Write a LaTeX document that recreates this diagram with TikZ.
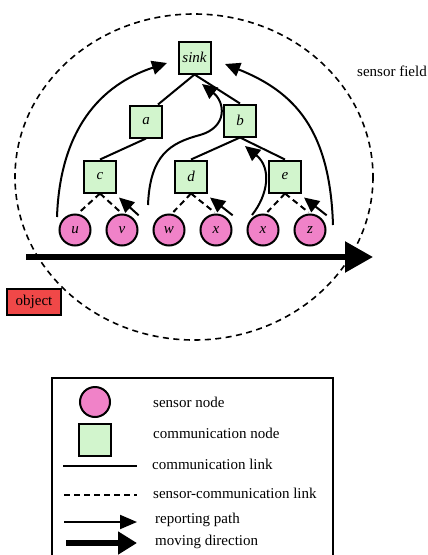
\documentclass[tikz,border=0pt]{standalone}
\usepackage{fontspec}
\setmainfont{Liberation Serif}
\usetikzlibrary{arrows.meta}

\definecolor{commgreen}{RGB}{210,245,205}
\definecolor{sensorpink}{RGB}{240,130,200}
\definecolor{objred}{RGB}{240,72,72}

\begin{document}
\begin{tikzpicture}[x=1pt,y=-1pt,font=\fontsize{15}{18}\selectfont,
  comm/.style={shape=rectangle,draw=black,fill=commgreen,line width=2pt,minimum size=32pt,inner sep=0pt,font=\fontsize{15}{18}\selectfont\itshape},
  sensor/.style={shape=circle,draw=black,fill=sensorpink,line width=2pt,minimum size=31pt,inner sep=0pt,font=\fontsize{15}{18}\selectfont\itshape},
  link/.style={-,draw=black,line width=2pt},
  senslink/.style={link,dash pattern=on 6pt off 4pt},
  report/.style={-{Triangle[length=15pt,width=14pt]},draw=black,line width=2pt},
  moving/.style={-{Triangle[length=28pt,width=30pt]},draw=black,line width=5.5pt},
  legtext/.style={anchor=west,inner sep=0pt}]
\useasboundingbox (0,0) rectangle (428,555);

% sensor field
\draw[black,line width=1.6pt,dash pattern=on 6pt off 4.5pt] (194,177) ellipse [x radius=179,y radius=163];
\node[legtext] (field) at (357,71) {sensor field};

% communication tree
\node[comm] (sink) at (194.5,57.5) {sink};
\node[comm] (a) at (146,121.5) {a};
\node[comm] (b) at (240,120.5) {b};
\node[comm] (c) at (100,176.5) {c};
\node[comm] (d) at (191,176.5) {d};
\node[comm] (e) at (285,176.5) {e};

% sensors
\node[sensor] (u) at (75,230) {u};
\node[sensor] (v) at (122,230) {v};
\node[sensor] (w) at (169,230) {w};
\node[sensor] (x1) at (216,230) {x};
\node[sensor] (x2) at (263,230) {x};
\node[sensor] (z) at (310,230) {z};

\path [link] (sink.south) edge ([xshift=-5pt]a.north east);
\path [link] (sink.south) edge (b.north);
\path [link] (a.south) edge (c.north);
\path [link] (b.south) edge (d.north);
\path [link] (b.south) edge (e.north);

\path [senslink,shorten >=2pt] (c.south) edge ([xshift=3pt]u.north);
\path [senslink,shorten >=2pt] (c.south) edge (v.north);
\path [senslink,shorten >=2pt] (d.south) edge ([xshift=3pt]w.north);
\path [senslink,shorten >=2pt] (d.south) edge (x1.north);
\path [senslink,shorten >=2pt] (e.south) edge ([xshift=3pt]x2.north);
\path [senslink,shorten >=2pt] (e.south) edge (z.north);

% reporting paths
\coordinate (r1s) at (57,217);
\coordinate (r1e) at (167,63);
\coordinate (r3s) at (148,205);
\coordinate (r3m) at (200,135);
\coordinate (r3e) at (202,84);
\coordinate (r5s) at (252,215);
\coordinate (r5e) at (245,146);
\coordinate (r7s) at (333,225);
\coordinate (r7e) at (225,64);
\draw[report] (r1s) .. controls (60,130) and (100,85) .. (r1e);
\draw[report] (r3s) .. controls (150,155) and (170,143) .. (r3m) .. controls (228,127) and (225,102) .. (r3e);
\draw[report] (r5s) .. controls (268,195) and (272,168) .. (r5e);
\draw[report] (r7s) .. controls (330,130) and (295,92) .. (r7e);
\draw[report] ([shift={(5,-3)}]v.north east) -- ([shift={(2,4)}]c.south east);
\draw[report] ([shift={(5,-3)}]x1.north east) -- ([shift={(2,4)}]d.south east);
\draw[report] ([shift={(5,-3)}]z.north east) -- ([shift={(2,4)}]e.south east);

% object and its direction
\node[draw=black,fill=objred,line width=1.5pt,minimum width=54pt,minimum height=26pt,inner sep=0pt] (object) at (34,302) {object};
\coordinate (mvs) at (26,257);
\coordinate (mve) at (373,257);
\draw[moving] (mvs) -- (mve);

% legend
\draw[black,line width=1.6pt] (52,378) rectangle (333,570);
\node[sensor,minimum size=30pt] (legsensor) at (95,402) {};
\node[comm] (legcomm) at (95,440) {};
\coordinate (l1a) at (63,466);  \coordinate (l1b) at (137,466);
\coordinate (l2a) at (64,495);  \coordinate (l2b) at (137,495);
\coordinate (l3a) at (64,522);  \coordinate (l3b) at (137,522);
\coordinate (l4a) at (66,543);  \coordinate (l4b) at (137,543);
\draw[link] (l1a) -- (l1b);
\draw[senslink] (l2a) -- (l2b);
\draw[report,-{Triangle[length=17pt,width=14pt]}] (l3a) -- (l3b);
\draw[moving,-{Triangle[length=19pt,width=22pt]}] (l4a) -- (l4b);
\node[legtext] (tsensor) at (153,402) {sensor node};
\node[legtext] (tcomm) at (153,433) {communication node};
\node[legtext] (tlink) at (152,464) {communication link};
\node[legtext] (tslink) at (153,493) {sensor-communication link};
\node[legtext] (treport) at (155,520) {reporting path};
\node[legtext] (tmoving) at (155,542) {moving direction};
\end{tikzpicture}
\end{document}
